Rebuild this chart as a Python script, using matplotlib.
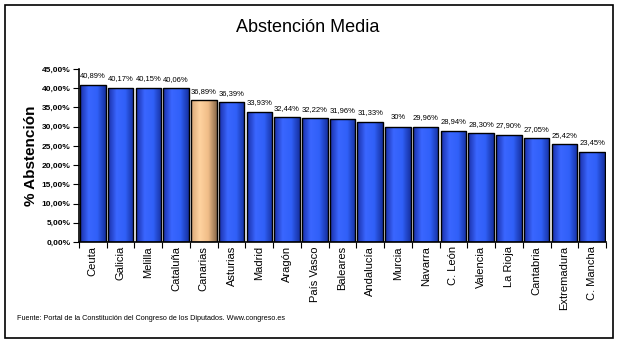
import numpy as np
import matplotlib
matplotlib.use("Agg")
import matplotlib.pyplot as plt
from matplotlib.patches import Rectangle
from matplotlib.colors import LinearSegmentedColormap

regiones = ["Ceuta", "Galicia", "Melilla", "Cataluña", "Canarias", "Asturias", "Madrid",
            "Aragón", "País Vasco", "Baleares", "Andalucía", "Murcia", "Navarra", "C. León",
            "Valencia", "La Rioja", "Cantabria", "Extremadura", "C. Mancha"]
abstencion = [40.89, 40.17, 40.15, 40.06, 36.89, 36.39, 33.93, 32.44, 32.22, 31.96,
              31.33, 30.0, 29.96, 28.94, 28.30, 27.90, 27.05, 25.42, 23.45]
etiquetas = ["40,89%", "40,17%", "40,15%", "40,06%", "36,89%", "36,39%", "33,93%", "32,44%",
             "32,22%", "31,96%", "31,33%", "30%", "29,96%", "28,94%", "28,30%", "27,90%",
             "27,05%", "25,42%", "23,45%"]
yticks = [0, 5, 10, 15, 20, 25, 30, 35, 40, 45]

plt.rcParams['font.family'] = ['Liberation Sans', 'DejaVu Sans']

fig = plt.figure(figsize=(6.19, 3.46), dpi=100)
fig.patches.append(Rectangle((5/619, 8/346), 608/619, 333/346, transform=fig.transFigure,
                             fill=False, edgecolor='black', linewidth=1.2))

ax = fig.add_axes([79/619, 1-242/346, 527/619, 173/346])
x = np.arange(len(regiones))
bars = ax.bar(x, abstencion, width=0.92, color='none', edgecolor='black', linewidth=1.0, zorder=3)

azul = LinearSegmentedColormap.from_list('azul', ['#1a2fa8', '#3a66ff', '#3060f8', '#1530a0'])
melocoton = LinearSegmentedColormap.from_list('mel', ['#d9a878', '#ffd3a0', '#f0bd88', '#8a6a4a'])
grad = np.linspace(0, 1, 64).reshape(1, -1)
for i, b in enumerate(bars):
    cmap = melocoton if regiones[i] == "Canarias" else azul
    im = ax.imshow(grad, cmap=cmap, aspect='auto', zorder=2,
                   extent=[b.get_x(), b.get_x()+b.get_width(), 0, b.get_height()])
    im.set_clip_path(b)
    ax.text(b.get_x()+b.get_width()/2, b.get_height()+1.4, etiquetas[i],
            ha='center', va='bottom', fontsize=5.5)

ax.set_xlim(-0.5, len(regiones)-0.5)
ax.set_ylim(0, 45)
ax.set_yticks(yticks)
ax.set_yticklabels([f"{v},00%" for v in yticks], fontsize=6, fontweight='bold')
ax.set_xticks(np.arange(len(regiones)+1)-0.5, minor=False)
ax.set_xticklabels([])
ax.set_xticks(x, minor=True)
ax.set_xticklabels(regiones, minor=True, rotation=90, fontsize=8)
ax.tick_params(axis='x', which='minor', length=0, pad=3)
ax.tick_params(axis='x', which='major', length=4, direction='out')
ax.tick_params(axis='y', length=4, direction='out', pad=2)
for s in ['top', 'right']:
    ax.spines[s].set_visible(False)
ax.spines['left'].set_linewidth(1.2)
ax.spines['bottom'].set_linewidth(1.2)
ax.set_ylabel("% Abstención", fontsize=11, fontweight='bold', labelpad=3)

fig.text(308/619, 1-28/346, "Abstención Media", ha='center', va='center', fontsize=13)
fig.text(17/619, 1-318/346, "Fuente: Portal de la Constitución del Congreso de los Diputados. Www.congreso.es",
         ha='left', va='center', fontsize=5.2)

fig.savefig("out.png", dpi=100)
